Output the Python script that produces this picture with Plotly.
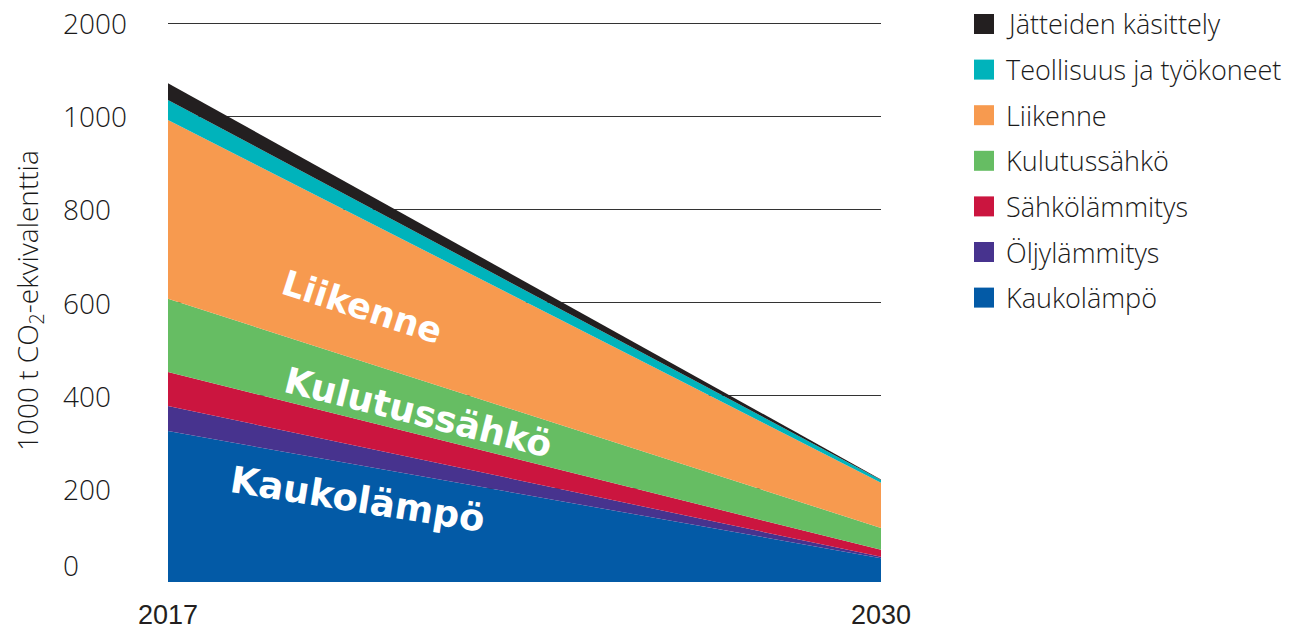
import plotly.graph_objects as go

years = [2017, 2030]
series_names = ["Kaukolämpö", "Öljylämmitys", "Sähkölämmitys", "Kulutussähkö",
                "Liikenne", "Teollisuus ja työkoneet", "Jätteiden käsittely"]
kaukolampo = [324, 51]
oljylammitys = [54, 3]
sahkolammitys = [73, 15]
kulutussahko = [157, 47]
liikenne = [384, 97]
teollisuus = [43, 6]
jatteiden = [36, 1]
series_values = [kaukolampo, oljylammitys, sahkolammitys, kulutussahko,
                 liikenne, teollisuus, jatteiden]
colors = ["#035aa6", "#47338e", "#cb153f", "#66bd63", "#f79a4f", "#00b3bb", "#231f20"]

ytick_vals = [0, 200, 400, 600, 800, 1000, 1200]
ytick_text = ["0", "200", "400", "600", "800", "1000", "2000"]
ytick_label_pos = [36, 200, 400, 600, 800, 1000, 1200]

W, H = 1299, 629
L, R, T, B = 168, 418, 18, 47
plot_h = H - T - B
plot_w = W - L - R

fig = go.Figure()
for name, vals, col in zip(series_names, series_values, colors):
    fig.add_trace(go.Scatter(
        x=years, y=vals, name=name, mode="lines", stackgroup="one",
        line=dict(width=0, color=col), fillcolor=col, showlegend=False,
        hoverinfo="x+y+name"))

annotations = []
# y tick labels (left-aligned as in the reference)
for pos, txt in zip(ytick_label_pos, ytick_text):
    annotations.append(dict(
        x=(61 - L) / plot_w, xref="paper", y=pos, yref="y",
        text=txt, showarrow=False, xanchor="left", yanchor="middle",
        font=dict(family="Open Sans", size=28, color="#1a1a1a", weight=300)))

# y axis title
annotations.append(dict(
    x=(29 - L) / plot_w, xref="paper", y=(582 - 301) / plot_h, yref="paper",
    text="1000 t CO<sub>2</sub>-ekvivalenttia", textangle=-90, showarrow=False,
    xanchor="center", yanchor="middle",
    font=dict(family="Open Sans", size=28, color="#1a1a1a", weight=300)))

# in-area labels
area_labels = [("Liikenne", 2020.53, 590, 18, 35),
               ("Kulutussähkö", 2021.56, 363, 14, 36),
               ("Kaukolämpö", 2020.45, 177, 9, 37)]
for txt, x, y, ang, sz in area_labels:
    annotations.append(dict(
        x=x, y=y, xref="x", yref="y", text=txt, textangle=ang, showarrow=False,
        font=dict(family="DejaVu Sans", size=sz, color="white", weight="bold")))

# manual legend (top to bottom)
shapes = []
legend_order = list(zip(series_names, colors))[::-1]
for i, (name, col) in enumerate(legend_order):
    cy = 24 + i * 45.6
    yp = (582 - cy) / plot_h
    xp = (984 - L) / plot_w
    shapes.append(dict(type="rect", xref="paper", yref="paper",
                       xsizemode="pixel", ysizemode="pixel",
                       xanchor=xp, yanchor=yp, x0=-10, x1=10, y0=-10, y1=10,
                       fillcolor=col, line=dict(width=0)))
    annotations.append(dict(
        x=(1004 - L) / plot_w, xref="paper", y=yp, yref="paper",
        text=name, showarrow=False, xanchor="left", yanchor="middle",
        font=dict(family="Open Sans", size=27, color="#1a1a1a", weight=300)))

fig.update_layout(
    width=W, height=H,
    margin=dict(l=L, r=R, t=T, b=B, autoexpand=False),
    paper_bgcolor="white", plot_bgcolor="white",
    showlegend=False,
    annotations=annotations, shapes=shapes,
    xaxis=dict(range=[2017, 2030], tickvals=years, ticktext=[str(y) for y in years],
               showgrid=False, zeroline=False, showline=False, ticks="",
               ticklabelstandoff=14, automargin=False,
               tickfont=dict(family="Liberation Sans Narrow, Arial Narrow, Liberation Sans, sans-serif",
                             size=27, color="#231f20")),
    yaxis=dict(range=[0, plot_h / 0.4658], tickvals=ytick_vals[1:], automargin=False,
               showticklabels=False, showgrid=True, gridcolor="#333333",
               gridwidth=1, zeroline=False, showline=False, ticks=""),
)

fig.write_html("out.html")
